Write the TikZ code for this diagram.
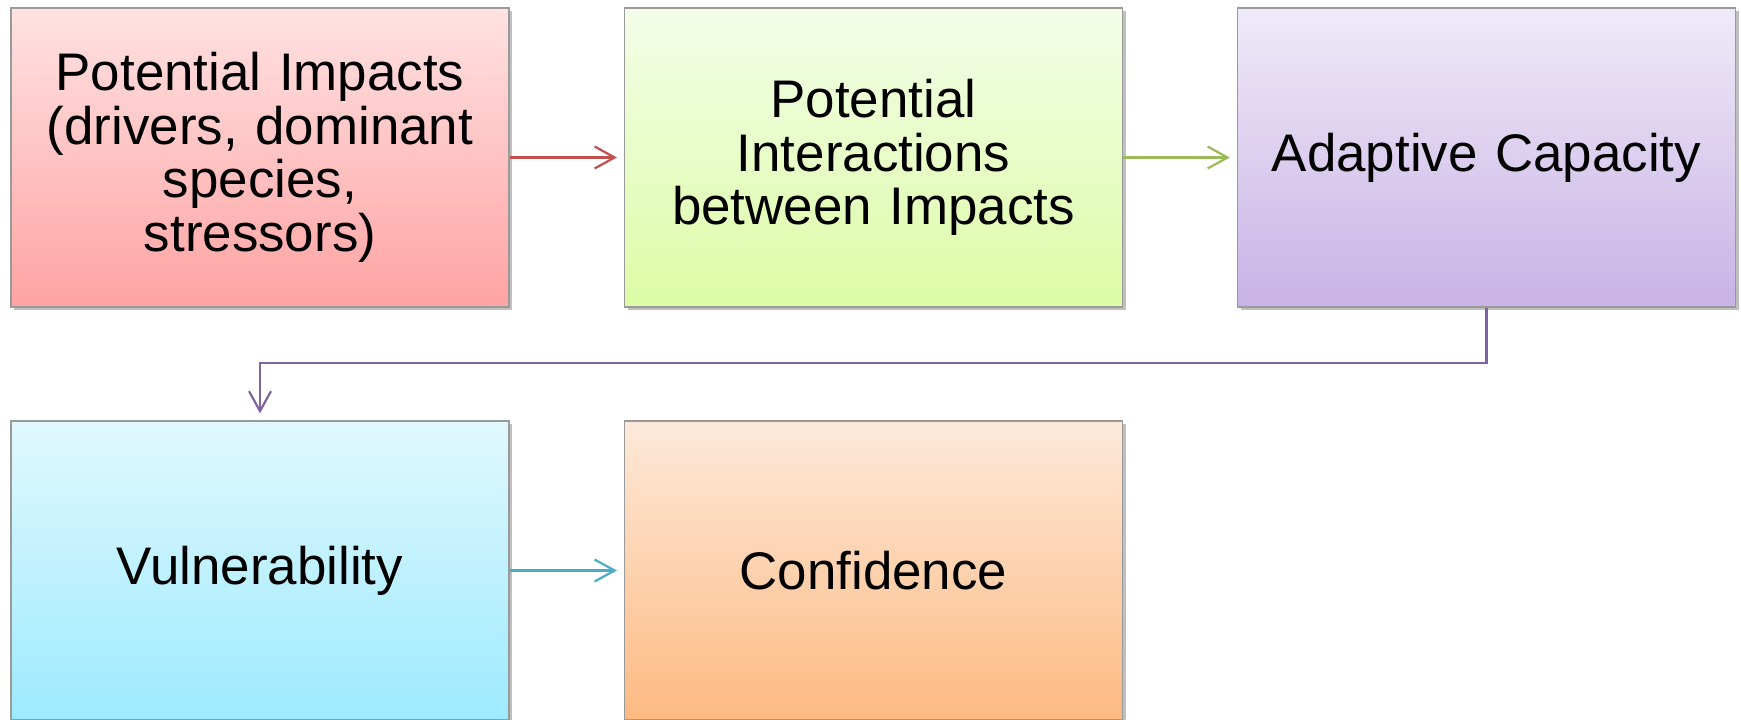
\documentclass[tikz,border=0pt]{standalone}
\usepackage{fontspec}
\setmainfont{Liberation Sans}
\usetikzlibrary{arrows.meta,shadows}
\definecolor{bordergray}{HTML}{9A9A9A}
\definecolor{redline}{HTML}{C0504D}
\definecolor{greenline}{HTML}{9BBB59}
\definecolor{purpleline}{HTML}{8064A2}
\definecolor{blueline}{HTML}{4BACC6}
\definecolor{redtop}{HTML}{FFE2E2}
\definecolor{redbot}{HTML}{FFA3A3}
\definecolor{greentop}{HTML}{F3FDE8}
\definecolor{greenbot}{HTML}{DCFCA6}
\definecolor{purpletop}{HTML}{EFEAF8}
\definecolor{purplebot}{HTML}{C8B3E5}
\definecolor{bluetop}{HTML}{E1F8FE}
\definecolor{bluebot}{HTML}{9DEAFE}
\definecolor{orangetop}{HTML}{FDE9DA}
\definecolor{orangebot}{HTML}{FDBA82}
\tikzset{
  flowbox/.style={draw=bordergray, line width=0.6pt, minimum width=249pt, minimum height=149.5pt,
    inner sep=0pt, align=center, text width=240pt,
    font=\fontsize{26.45}{26.8}\selectfont,
    drop shadow={shadow xshift=1.5pt, shadow yshift=-1.5pt, opacity=0.25, fill=black}},
  flowarrow/.style={line width=1.1pt, -{Straight Barb[length=10pt,width=11pt,line width=1.1pt]}, shorten >=3.5pt}
}
\begin{document}
\begin{tikzpicture}[x=0.5pt,y=-0.5pt]
\useasboundingbox (0,0) rectangle (1741,719);
\node[flowbox, top color=redtop, bottom color=redbot] (impacts) at (260,157.5)
  {Potential Impacts\\(drivers, dominant\\species,\\stressors)};
\node[flowbox, top color=greentop, bottom color=greenbot] (interact) at (873.5,157.5)
  {Potential\\Interactions\\between Impacts};
\node[flowbox, top color=purpletop, bottom color=purplebot] (adapt) at (1486.5,157.5)
  {Adaptive Capacity};
\node[flowbox, top color=bluetop, bottom color=bluebot] (vuln) at (260,570.5)
  {Vulnerability};
\node[flowbox, top color=orangetop, bottom color=orangebot] (conf) at (873.5,570.5)
  {Confidence};
\coordinate (bendA) at (1486.5,363);
\coordinate (bendB) at (260,363);
\draw[flowarrow, draw=redline] (impacts.east) -- (interact.west);
\draw[flowarrow, draw=greenline] (interact.east) -- (adapt.west);
\draw[flowarrow, draw=purpleline] (adapt.south) -- (bendA) -- (bendB) -- (vuln.north);
\draw[flowarrow, draw=blueline] (vuln.east) -- (conf.west);
\end{tikzpicture}
\end{document}
